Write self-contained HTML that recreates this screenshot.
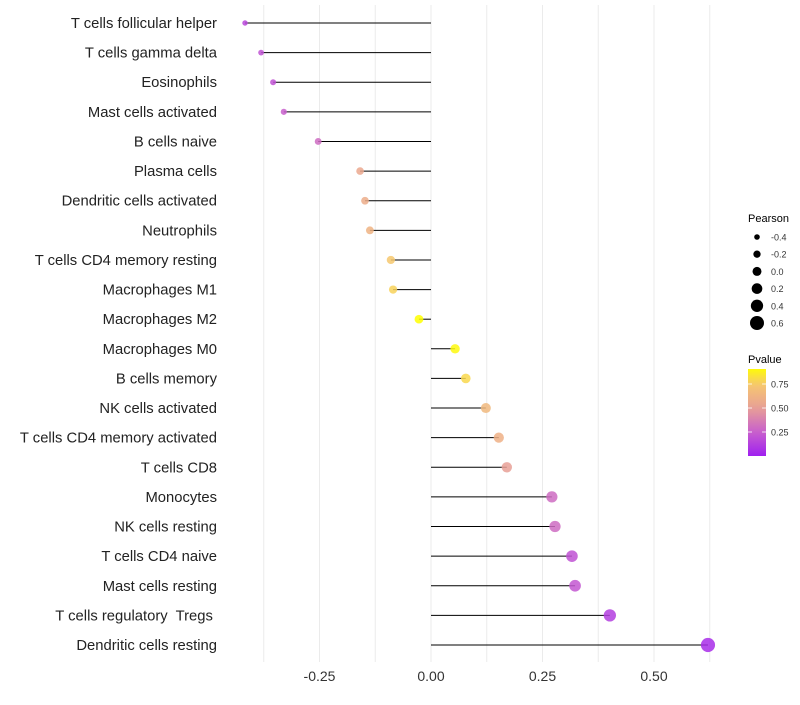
<!DOCTYPE html>
<html><head><meta charset="utf-8"><style>
body{margin:0;background:#fff;font-family:"Liberation Sans",sans-serif;}
svg text{font-family:"Liberation Sans",sans-serif;white-space:pre;}
</style></head><body>
<svg id="chart" width="800" height="700" xmlns="http://www.w3.org/2000/svg">
<g id="grid"></g>
<g id="ylabels"></g>
<g id="marks"></g>
<g id="xlabels"></g>
<g id="legend"></g>
</svg>
<script>
const categories=["T cells follicular helper","T cells gamma delta","Eosinophils","Mast cells activated","B cells naive","Plasma cells","Dendritic cells activated","Neutrophils","T cells CD4 memory resting","Macrophages M1","Macrophages M2","Macrophages M0","B cells memory","NK cells activated","T cells CD4 memory activated","T cells CD8","Monocytes","NK cells resting","T cells CD4 naive","Mast cells resting","T cells regulatory  Tregs ","Dendritic cells resting"];
const pearson=[-0.417,-0.381,-0.354,-0.330,-0.253,-0.159,-0.148,-0.137,-0.090,-0.085,-0.027,0.054,0.078,0.123,0.152,0.170,0.271,0.278,0.316,0.323,0.401,0.621];
const pvalue=[0.15,0.2,0.2,0.25,0.3,0.55,0.58,0.62,0.75,0.78,0.95,0.9,0.8,0.65,0.6,0.5,0.3,0.3,0.2,0.22,0.12,0.05];
const xTicks=[-0.25,0,0.25,0.5];
const xTickLabels=["-0.25","0.00","0.25","0.50"];
const legendPearson=[-0.4,-0.2,0.0,0.2,0.4,0.6];
const legendPearsonLabels=["-0.4","-0.2","0.0","0.2","0.4","0.6"];
const legendP=[0.75,0.5,0.25];
const legendPLabels=["0.75","0.50","0.25"];

const NS="http://www.w3.org/2000/svg";
function mk(t,a,p){const e=document.createElementNS(NS,t);for(const k in a)e.setAttribute(k,a[k]);p.appendChild(e);return e;}
const X0=431,XS=446;
const xScale=v=>X0+v*XS;
const yScale=i=>23+i*(622/(categories.length-1));
const rScale=v=>Math.max(1.8,2.8+(v+0.4)*4.2);
const stops=[[0,[160,32,240]],[0.25,[200,95,205]],[0.5,[232,160,150]],[0.75,[246,200,110]],[0.92,[255,255,0]]];
function col(p){p=Math.max(0,Math.min(0.92,p));for(let i=1;i<stops.length;i++){if(p<=stops[i][0]){const a=stops[i-1],b=stops[i],t=(p-a[0])/(b[0]-a[0]);const c=a[1].map((v,j)=>Math.round(v+(b[1][j]-v)*t));return `rgb(${c})`;}}return 'rgb(255,255,0)';}

const grid=document.getElementById('grid');
for(let v=-0.375;v<=0.63;v+=0.125){const g=mk('line',{x1:xScale(v),x2:xScale(v),y1:5,y2:662,stroke:'#ebebeb','stroke-width':1},grid);

}

const yl=document.getElementById('ylabels'),mg=document.getElementById('marks');
categories.forEach((c,i)=>{const y=yScale(i);
const t=mk('text',{x:217,y:y+5,'text-anchor':'end','font-size':14.8,fill:'#222'},yl);t.textContent=c;


const l=mk('line',{x1:X0,x2:xScale(pearson[i]),y1:y,y2:y,stroke:'#000','stroke-width':1},mg);


const d=mk('circle',{cx:xScale(pearson[i]),cy:y,r:rScale(pearson[i]),fill:col(pvalue[i]),'fill-opacity':0.85},mg);

});

const xl=document.getElementById('xlabels');
xTicks.forEach((v,i)=>{const t=mk('text',{x:xScale(v),y:681,'text-anchor':'middle','font-size':14,fill:'#333'},xl);t.textContent=xTickLabels[i];

});

const lg=document.getElementById('legend');
let t=mk('text',{x:748,y:222,'font-size':11,fill:'#000'},lg);t.textContent='Pearson';


legendPearson.forEach((v,i)=>{const y=237+i*17.2;
const c=mk('circle',{cx:757,cy:y,r:rScale(v),fill:'#000'},lg);


const tt=mk('text',{x:771,y:y+3.5,'font-size':9,fill:'#333'},lg);tt.textContent=legendPearsonLabels[i];

});
t=mk('text',{x:748,y:363,'font-size':11,fill:'#000'},lg);t.textContent='Pvalue';


const defs=mk('defs',{},lg);const grad=mk('linearGradient',{id:'pg',x1:0,y1:1,x2:0,y2:0},defs);
for(let k=0;k<=10;k++){const p=k/10*0.906;mk('stop',{offset:k/10,'stop-color':col(p)},grad);}
const bar=mk('rect',{x:748,y:369,width:18,height:87,fill:'url(#pg)'},lg);


legendP.forEach((v,i)=>{const y=456-v*96;
const tk=mk('line',{x1:748,x2:752,y1:y,y2:y,stroke:'#fff','stroke-width':0.8},lg);

mk('line',{x1:762,x2:766,y1:y,y2:y,stroke:'#fff','stroke-width':0.8},lg);
const tt=mk('text',{x:771,y:y+3.5,'font-size':9,fill:'#333'},lg);tt.textContent=legendPLabels[i];

});
</script>
</body></html>
